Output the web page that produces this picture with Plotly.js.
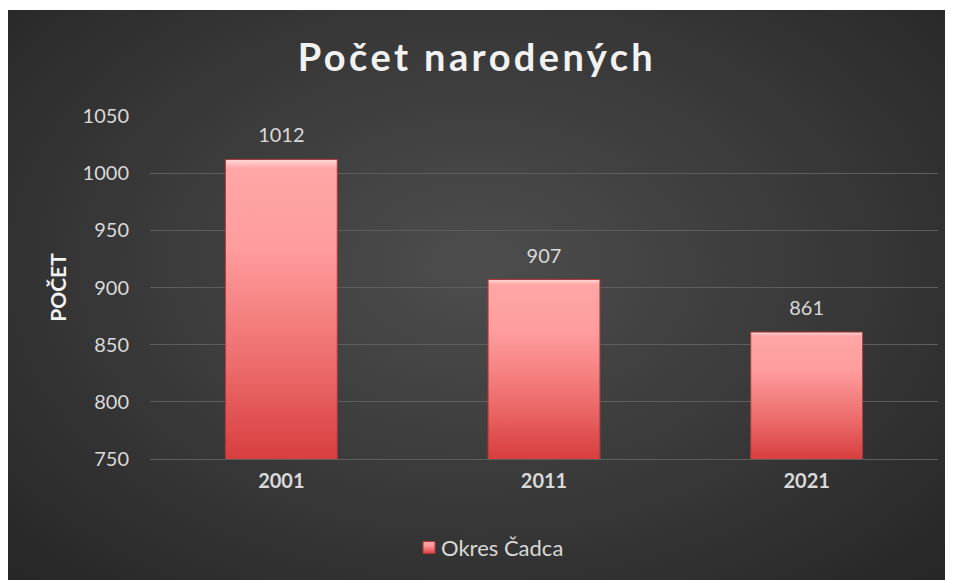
<!DOCTYPE html>
<html>
<head>
<meta charset="utf-8">
<script src="https://cdn.plot.ly/plotly-3.0.1.min.js"></script>
<style>
  html, body { margin: 0; padding: 0; background: #ffffff; }
  #bg { position: absolute; left: 8px; top: 10px; width: 937px; height: 570px;
        background: radial-gradient(ellipse at 50% 45%, #4d4d4d 0%, #3a3a3a 50%, #262626 100%); }
  #chart { position: absolute; left: 0; top: 0; width: 954px; height: 580px; }
</style>
</head>
<body>
<div id="bg"></div>
<div id="chart"></div>
<script>
const categories = ['2001', '2011', '2021'];
const values = [1012, 907, 861];
const seriesName = 'Okres Čadca';
const yTicks = [750, 800, 850, 900, 950, 1000, 1050];

const FONT = 'Lato, "Open Sans", sans-serif';

const trace = {
  type: 'bar',
  x: categories,
  y: values,
  name: seriesName,
  text: values.map(String),
  textposition: 'outside',
  textfont: { family: FONT, size: 20, color: '#d9d9d9' },
  cliponaxis: false,
  marker: { color: '#f07070', line: { color: '#a83a3a', width: 1 } },
  showlegend: true
};

const layout = {
  width: 954, height: 580,
  paper_bgcolor: 'rgba(0,0,0,0)',
  plot_bgcolor: 'rgba(0,0,0,0)',
  margin: { l: 150, r: 16, t: 116, b: 120 },
  bargap: 0.574,
  title: {
    text: 'Počet narodených',
    font: { family: FONT, size: 38, color: '#f2f2f2', weight: 'bold' },
    x: 0.5, xanchor: 'center', y: 0.9, yanchor: 'middle'
  },
  xaxis: {
    type: 'category',
    tickfont: { family: FONT, size: 20, color: '#d9d9d9', weight: 'bold' },
    showgrid: false, showline: true, linecolor: '#5e5e5e', linewidth: 1,
    ticks: '', ticklabelstandoff: 4
  },
  yaxis: {
    range: [750, 1050],
    tickvals: yTicks,
    tickfont: { family: FONT, size: 20, color: '#d9d9d9' },
    gridcolor: '#5e5e5e', gridwidth: 1, zeroline: false,
    ticks: '', ticklabelstandoff: 20,
    title: { text: 'POČET', standoff: 10,
      font: { family: FONT, size: 21, color: '#f2f2f2', weight: 'bold' } }
  },
  legend: {
    orientation: 'h', x: 0.4353, xanchor: 'center', y: -0.255, yanchor: 'middle',
    font: { family: FONT, size: 22, color: '#d9d9d9' },
    itemwidth: 30
  }
};

Plotly.newPlot('chart', [trace], layout, { displayModeBar: false, staticPlot: true }).then(function(gd) {
  const svg = gd.querySelector('svg.main-svg');
  const ns = 'http://www.w3.org/2000/svg';
  let defs = svg.querySelector('defs');
  if (!defs) { defs = document.createElementNS(ns, 'defs'); svg.insertBefore(defs, svg.firstChild); }
  const stops = [['0', '#ffd9d9'], ['0.03', '#ffa6a6'], ['0.3', '#ff9c9c'], ['0.7', '#ec6a6a'], ['1', '#d83e3e']];
  function makeGrad(id, y1, y2, units) {
    const grad = document.createElementNS(ns, 'linearGradient');
    grad.setAttribute('id', id);
    grad.setAttribute('gradientUnits', units);
    grad.setAttribute('x1', '0'); grad.setAttribute('y1', String(y1));
    grad.setAttribute('x2', '0'); grad.setAttribute('y2', String(y2));
    stops.forEach(function(s) {
      const st = document.createElementNS(ns, 'stop');
      st.setAttribute('offset', s[0]); st.setAttribute('stop-color', s[1]);
      grad.appendChild(st);
    });
    defs.appendChild(grad);
  }
  const plotH = gd._fullLayout._size.h;
  gd.querySelectorAll('.trace.bars .point path').forEach(function(p, i) {
    const bb = p.getBBox();
    makeGrad('barGrad' + i, bb.y, plotH, 'userSpaceOnUse');
    p.style.fill = 'url(#barGrad' + i + ')';
  });
  makeGrad('legGrad', 0, 1, 'objectBoundingBox');
  gd.querySelectorAll('.legendpoints path').forEach(function(p) {
    p.style.fill = 'url(#legGrad)';
  });
  // lift data labels slightly, as in reference
  gd.querySelectorAll('.trace.bars .point text').forEach(function(t) {
    const tr = t.getAttribute('transform') || '';
    t.setAttribute('transform', 'translate(0,-10) ' + tr);
  });
  // tighten legend symbol-text gap
  gd.querySelectorAll('.legend .legendtext').forEach(function(t) {
    t.setAttribute('x', '32');
  });
  const t = gd.querySelector('.gtitle');
  if (t) t.style.letterSpacing = '3.4px';
});
</script>
</body>
</html>
